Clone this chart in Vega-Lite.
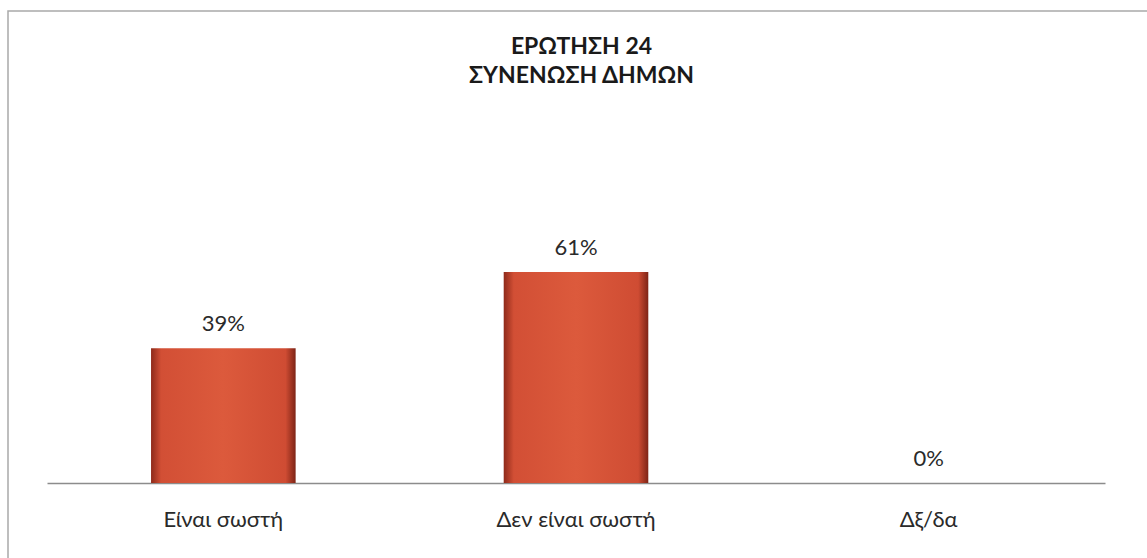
{
  "$schema": "https://vega.github.io/schema/vega-lite/v6.json",
  "autosize": "none",
  "padding": {"left": 8, "top": 11, "right": -4, "bottom": -4},
  "width": 1143,
  "height": 551,
  "background": "#ffffff",
  "config": {
    "view": {"stroke": "#a9a9a9", "strokeWidth": 1.5, "fill": "#ffffff"},
    "font": "Lato"
  },
  "title": {
    "text": ["ΕΡΩΤΗΣΗ 24", "ΣΥΝΕΝΩΣΗ ΔΗΜΩΝ"],
    "anchor": "middle",
    "frame": "group",
    "orient": "top",
    "offset": -100,
    "baseline": "bottom",
    "lineHeight": 29,
    "font": "Lato",
    "fontSize": 23,
    "fontWeight": "bold",
    "color": "#1a1a1a",
    "dx": 2
  },
  "data": {
    "values": [
      {"answer": "Είναι σωστή", "share": 0.39},
      {"answer": "Δεν είναι σωστή", "share": 0.61},
      {"answer": "Δξ/δα", "share": 0.0}
    ]
  },
  "encoding": {
    "x": {
      "field": "answer",
      "type": "nominal",
      "sort": null,
      "scale": {"range": [39, 1097], "paddingInner": 0.59, "paddingOuter": 0.295},
      "axis": {
        "title": null,
        "orient": "bottom",
        "offset": -79,
        "domainColor": "#8c8c8c",
        "domainWidth": 1.5,
        "ticks": false,
        "tickSize": 0,
        "labelPadding": 26,
        "labelAngle": 0,
        "labelFont": "Lato",
        "labelFontSize": 22,
        "labelColor": "#2a2a2a",
        "grid": false
      }
    },
    "y": {
      "field": "share",
      "type": "quantitative",
      "scale": {"domain": [0, 0.7], "range": [472, 230]},
      "axis": null
    }
  },
  "layer": [
    {
      "mark": {
        "type": "bar",
        "color": {
          "gradient": "linear",
          "x1": 0, "x2": 1, "y1": 0, "y2": 0,
          "stops": [
            {"offset": 0, "color": "#8e2a1a"},
            {"offset": 0.07, "color": "#d24f35"},
            {"offset": 0.5, "color": "#dc5a3c"},
            {"offset": 0.93, "color": "#cf4c33"},
            {"offset": 1, "color": "#7e2416"}
          ]
        },
        "strokeWidth": 0
      }
    },
    {
      "mark": {
        "type": "text",
        "baseline": "alphabetic",
        "dy": -17,
        "font": "Lato",
        "fontSize": 22,
        "color": "#2a2a2a"
      },
      "encoding": {
        "text": {"field": "share", "type": "quantitative", "format": ".0%"}
      }
    }
  ]
}
